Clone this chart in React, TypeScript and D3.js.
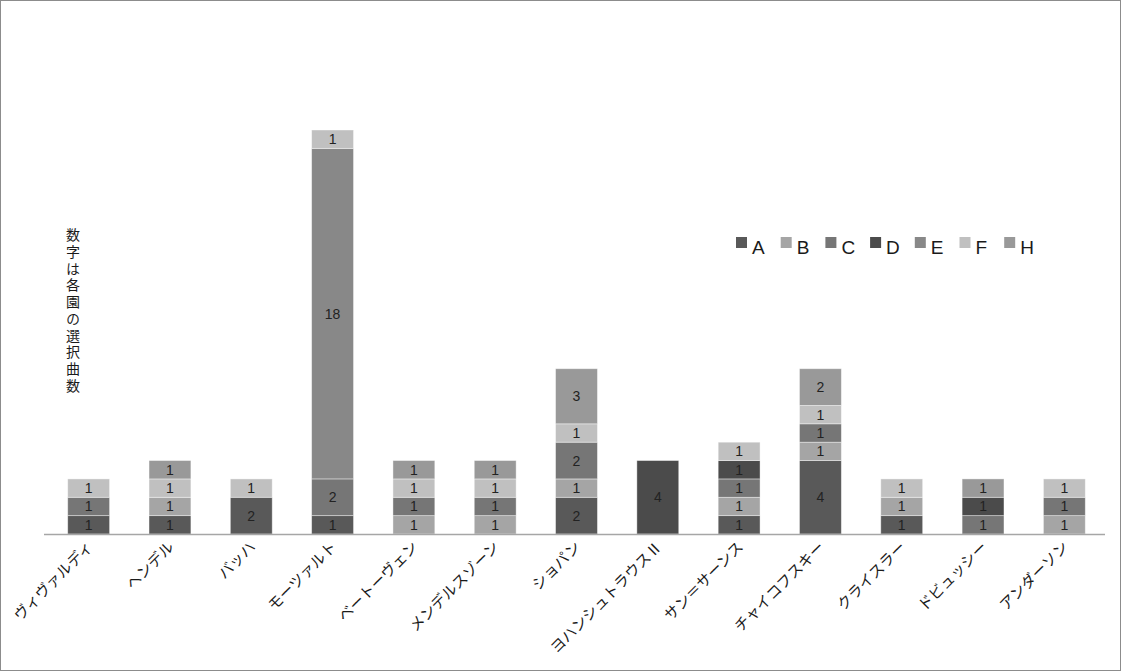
import React from "react";
import * as d3 from "d3";

const categories = [
  "ヴィヴァルディ", "ヘンデル", "バッハ", "モーツァルト", "ベートーヴェン", "メンデルスゾーン",
  "ショパン", "ヨハンシュトラウスⅡ", "サン＝サーンス", "チャイコフスキー", "クライスラー", "ドビュッシー", "アンダーソン",
];
const seriesNames = ["A", "B", "C", "D", "E", "F", "H"];
const A = [1, 1, 2, 1, 0, 0, 2, 0, 1, 4, 1, 0, 0];
const B = [0, 1, 0, 0, 1, 1, 1, 0, 1, 1, 1, 0, 1];
const C = [1, 0, 0, 2, 1, 1, 2, 0, 1, 1, 0, 1, 1];
const D = [0, 0, 0, 0, 0, 0, 0, 4, 1, 0, 0, 1, 0];
const E = [0, 0, 0, 18, 0, 0, 0, 0, 0, 0, 0, 0, 0];
const F = [1, 1, 1, 1, 1, 1, 1, 0, 1, 1, 1, 0, 1];
const H = [0, 1, 0, 0, 1, 1, 3, 0, 0, 2, 0, 1, 0];
const seriesValues = [A, B, C, D, E, F, H];
const colors = ["#595959", "#a5a5a5", "#767676", "#4b4b4b", "#888888", "#c0c0c0", "#999999"];
const noteText = "数字は各園の選択曲数";

const W = 1121, Hh = 671;

export default function App() {
  const rows = categories.map((c, i) => {
    const r: any = { cat: c };
    seriesNames.forEach((s, k) => (r[s] = seriesValues[k][i]));
    return r;
  });
  const stack = d3.stack().keys(seriesNames)(rows);
  const x = d3.scaleBand().domain(categories).range([48, 1105]).paddingInner(0.485).paddingOuter(0.2425);
  const y = d3.scaleLinear().domain([0, 22]).range([534, 130]);
  const font = "'Noto Sans CJK JP', 'Noto Sans', sans-serif";

  return (
    <svg width={W} height={Hh} style={{ position: "absolute", left: 0, top: 0, background: "#fff" }} fontFamily={font}>
      <rect x={0.5} y={0.5} width={W - 1} height={Hh - 1} fill="#fff" stroke="#8c8c8c" />
      {stack.map((layer, k) =>
        layer.map((d, i) => {
          const v = d[1] - d[0];
          if (v <= 0) return null;
          const x0 = x(categories[i])!;
          const y0 = y(d[1]), y1 = y(d[0]);
          return (
            <g key={`${k}-${i}`}>
              <rect x={x0} y={y0} width={x.bandwidth()} height={y1 - y0} fill={colors[k]} stroke="#ffffff" strokeOpacity={0.5} strokeWidth={0.8} />
              <text x={x0 + x.bandwidth() / 2} y={(y0 + y1) / 2 + 5} textAnchor="middle" fontSize={14} fill="#222222" fontFamily="'Liberation Sans', sans-serif">{v}</text>
            </g>
          );
        })
      )}
      <line x1={44} x2={1105} y1={534.5} y2={534.5} stroke="#a6a6a6" strokeWidth={1.5} />
      {categories.map((c) => {
        const cx = x(c)! + x.bandwidth() / 2 + 5;
        const cy = 548;
        return (
          <text key={c} x={cx} y={cy} transform={`rotate(-45 ${cx} ${cy})`} textAnchor="end" fontSize={15} fill="#1a1a1a">{c}</text>
        );
      })}
      {seriesNames.map((s, k) => {
        const lx = 736 + k * 44.7;
        return (
          <g key={s}>
            <rect x={lx} y={237} width={11} height={11} fill={colors[k]} />
            <text x={lx + 16} y={254} fontSize={19} fill="#1a1a1a" fontFamily="'Liberation Sans', sans-serif">{s}</text>
          </g>
        );
      })}
      <text x={73} y={228} fontSize={14} fill="#1a1a1a" style={{ writingMode: "vertical-rl", letterSpacing: "2.7px" } as any}>{noteText}</text>
    </svg>
  );
}
